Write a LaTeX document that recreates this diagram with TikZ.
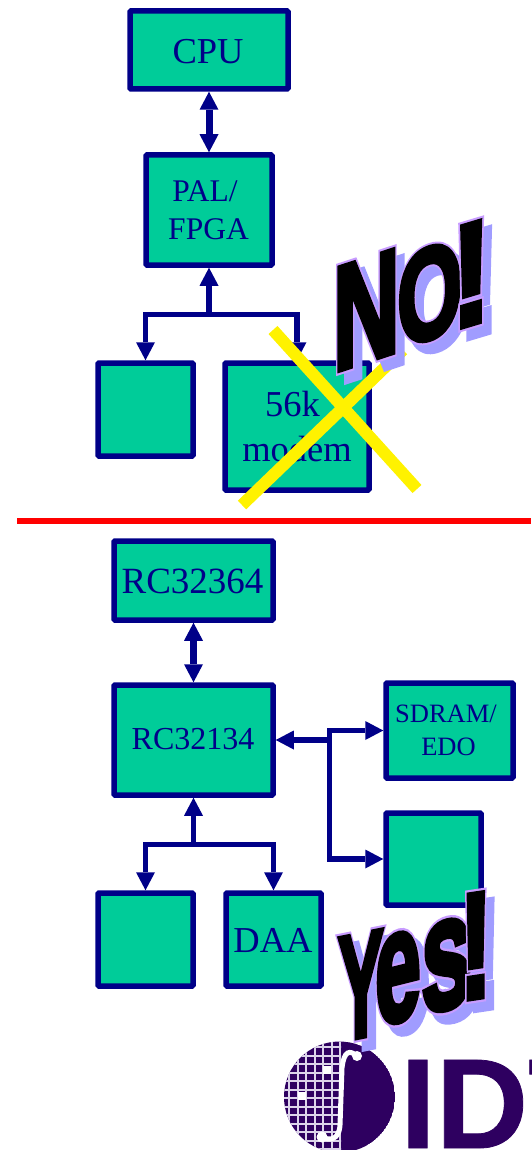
\documentclass[tikz,border=0pt]{standalone}
\usepackage{fontspec}
\usetikzlibrary{arrows.meta}
\setmainfont{Liberation Serif}
\newfontfamily\wablack[BoldFeatures={FakeBold=4}]{Liberation Sans}
\newfontfamily\waedge[BoldFeatures={FakeBold=7}]{Liberation Sans}
\newfontfamily\logofont[BoldFeatures={FakeBold=0.6}]{Liberation Sans}
\definecolor{boxfill}{HTML}{00CC99}
\definecolor{navy}{HTML}{000088}
\definecolor{washadow}{HTML}{A09CFF}
\definecolor{waedgec}{HTML}{C89CFF}
\definecolor{idt}{HTML}{2E0060}
\definecolor{gridc}{HTML}{DCD4EA}
\tikzset{
  blockbox/.style={draw=navy,fill=boxfill,line width=5.5pt,rounded corners=1pt,inner sep=0pt},
  lbl/.style={text=navy,anchor=south,inner sep=0pt,align=center},
  link/.style={draw=navy,line width=5.5pt},
  arr/.style={link,-{Triangle[width=19pt,length=18pt,line width=0pt]}},
  biarr/.style={link,line width=7pt,{Triangle[width=19pt,length=18pt,line width=0pt]}-{Triangle[width=19pt,length=18pt,line width=0pt]}},
  cross/.style={draw=yellow,line width=12pt},
}
% #1 name, #2 x, #3 y, #4 xscale, #5 yscale, #6 slant, #7 letter
\newcommand\waletter[7]{%
  \begin{scope}[shift={(#2+8,-#3-9)},yslant=#6,xscale=#4,yscale=#5]
    \node[transform shape,anchor=base west,inner sep=0pt,text=washadow,font=\waedge\bfseries\fontsize{100}{100}\selectfont] (#1s) at (0,0) {#7};
  \end{scope}
}
\newcommand\watop[7]{%
  \begin{scope}[shift={(#2,-#3)},yslant=#6,xscale=#4,yscale=#5]
    \node[transform shape,anchor=base west,inner sep=0pt,text=waedgec,font=\waedge\bfseries\fontsize{100}{100}\selectfont] (#1e) at (0,0) {#7};
    \node[transform shape,anchor=base west,inner sep=0pt,text=black,font=\wablack\bfseries\fontsize{100}{100}\selectfont] (#1k) at (0,0) {#7};
  \end{scope}
}
\begin{document}
\begin{tikzpicture}[x=1pt,y=1pt]
\useasboundingbox (0,0) rectangle (531,-1150);
% boxes
\node[blockbox,minimum width=158pt,minimum height=78pt] (cpu) at (209,-50) {};
\node[blockbox,minimum width=126pt,minimum height=110pt] (pal) at (209,-210) {};
\node[blockbox,minimum width=95pt,minimum height=93pt] (tl) at (145.5,-409.5) {};
\node[blockbox,minimum width=144pt,minimum height=127pt] (modem) at (297,-426.5) {};
\node[blockbox,minimum width=159pt,minimum height=79pt] (rca) at (193.5,-580.5) {};
\node[blockbox,minimum width=159pt,minimum height=110pt] (rcb) at (193.5,-740) {};
\node[blockbox,minimum width=127pt,minimum height=95pt] (sdram) at (449.5,-730.5) {};
\node[blockbox,minimum width=95pt,minimum height=92pt] (br) at (433.5,-859) {};
\node[blockbox,minimum width=95pt,minimum height=93pt] (bl) at (145.5,-939.5) {};
\node[blockbox,minimum width=95pt,minimum height=93pt] (daa) at (273.5,-939.5) {};
% labels
\node[lbl,font=\fontsize{36.5}{40}\selectfont] (tcpu) at (208,-64) {CPU};
\node[lbl,font=\fontsize{31.5}{38}\selectfont] (tpal) at (208.5,-240) {PAL/\kern7pt\\FPGA};
\node[lbl,font=\fontsize{36.5}{45}\selectfont] (tmodem) at (297,-462) {56k\kern9pt\\modem};
\node[lbl,font=\fontsize{37}{40}\selectfont] (trca) at (192.5,-594) {RC32364};
\node[lbl,font=\fontsize{32}{36}\selectfont] (trcb) at (193,-750) {RC32134};
\node[lbl,font=\fontsize{26.5}{33}\selectfont] (tsdram) at (446,-756) {SDRAM/\\\kern5pt EDO};
\node[lbl,font=\fontsize{36.5}{40}\selectfont] (tdaa) at (273,-953) {DAA};
% connectors upper
\draw[biarr] (cpu.south) -- (pal.north);
\coordinate (j1) at (209,-314.5);
\draw[arr] (j1) -- (pal.south);
\draw[arr] (j1) -| (tl.north);
\draw[arr] (j1) -| (modem.north);
% connectors lower
\draw[biarr] (rca.south) -- (rcb.north);
\coordinate (j2) at (193.5,-844.5);
\draw[arr] (j2) -- (rcb.south);
\draw[arr] (j2) -| (bl.north);
\draw[arr] (j2) -| (daa.north);
\coordinate (j3) at (329.5,-740);
\draw[arr] (j3) -- (rcb.east);
\draw[arr] (j3) |- (sdram.west);
\draw[arr] (j3) |- (br.west);
% red rule
\coordinate (rl) at (17,-521);
\coordinate (rr) at (531,-521);
\draw[red,line width=6pt] (rl) -- (rr);
% yellow cross
\coordinate (xa) at (273,-330);
\coordinate (xb) at (417,-489);
\coordinate (xc) at (242,-505);
\coordinate (xd) at (403,-350);
\draw[cross] (xa) -- (xb);
\draw[cross] (xc) -- (xd);
% logo
\begin{scope}
  \clip (339.5,-1097) circle (55.5);
  \fill[idt] (339.5,-1097) circle (55.5);
  \begin{scope}
    \clip (280,-1040) rectangle (341,-1150);
    \foreach \gx in {289,297.5,...,340} \draw[gridc,line width=2pt] (\gx,-1040) -- (\gx,-1150);
    \foreach \gy in {1047,1055.5,...,1150} \draw[gridc,line width=2pt] (280,-\gy) -- (345,-\gy);
  \end{scope}
  \fill[white] (323,-1066) rectangle (331,-1074);
  \fill[white] (298,-1092) rectangle (306,-1100);
  \draw[white,line width=5pt] (357,-1056) .. controls (350,-1050) and (344,-1050) .. (342,-1068) -- (340,-1125) .. controls (339,-1140) and (330,-1141) .. (322,-1137);
  \fill[white] (357,-1056) circle (5);
  \fill[white] (322,-1137) circle (5.5);
\end{scope}
\node[anchor=base west,inner sep=0pt,text=idt,font=\logofont\bfseries\fontsize{128}{128}\selectfont] (logo) at (400,-1148) {IDT};
% No!
\waletter{na}{333}{372}{0.92}{1.48}{0.33}{N}
\waletter{nb}{397}{348}{0.84}{1.3}{0.3}{O}
\waletter{nc}{451}{330}{1.2}{1.45}{0.3}{!}
\watop{na}{333}{372}{0.92}{1.48}{0.33}{N}
\watop{nb}{397}{348}{0.84}{1.3}{0.3}{O}
\watop{nc}{451}{330}{1.2}{1.45}{0.3}{!}
% Yes!
\waletter{ya}{338}{1041}{0.68}{1.48}{0.2}{Y}
\waletter{yb}{375}{1026}{0.82}{1.6}{0.25}{e}
\waletter{yc}{421}{1014}{0.92}{1.6}{0.25}{s}
\waletter{yd}{459}{1000}{1.0}{1.5}{0.15}{!}
\watop{ya}{338}{1041}{0.68}{1.48}{0.2}{Y}
\watop{yb}{375}{1026}{0.82}{1.6}{0.25}{e}
\watop{yc}{421}{1014}{0.92}{1.6}{0.25}{s}
\watop{yd}{459}{1000}{1.0}{1.5}{0.15}{!}
\end{tikzpicture}
\end{document}
